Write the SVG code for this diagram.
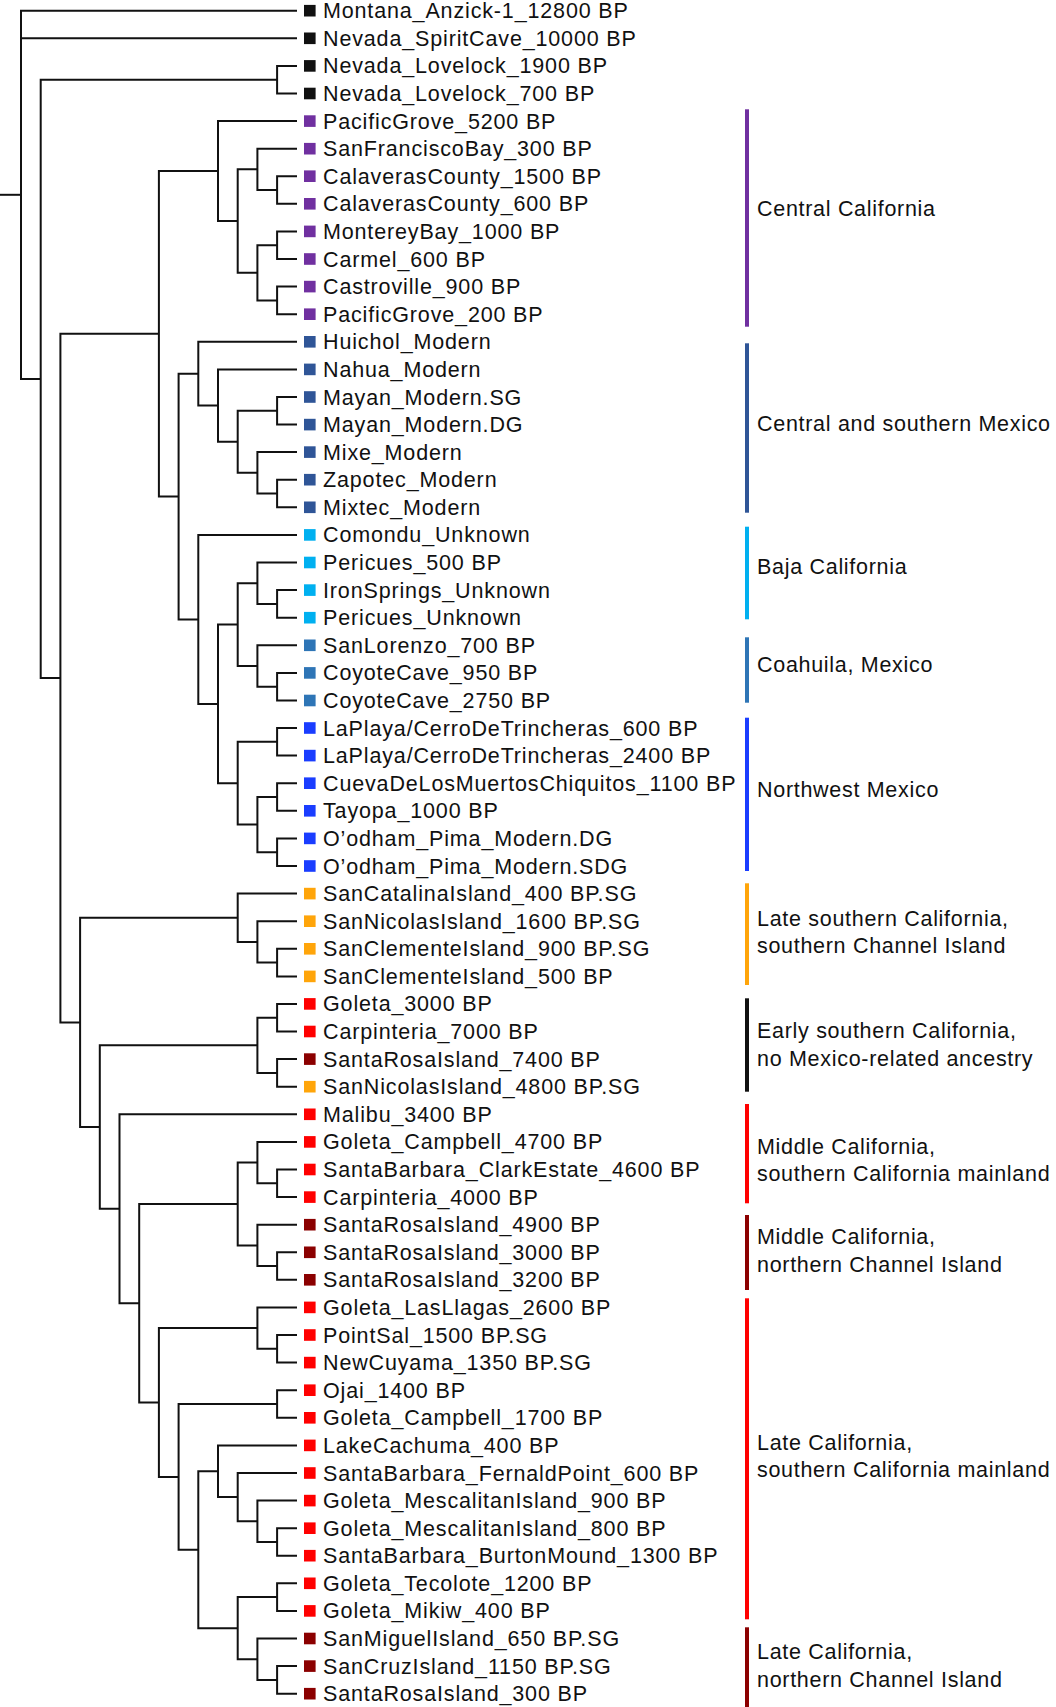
<svg xmlns="http://www.w3.org/2000/svg" width="1056" height="1707" viewBox="0 0 1056 1707">
<style>
.e{fill:none;stroke:#111;stroke-width:2;stroke-linejoin:miter}
text{font-family:"Liberation Sans",Arial,sans-serif;font-size:21.5px;letter-spacing:0.85px;fill:#111}
#regions text{letter-spacing:0.7px}
.k{fill:#111}.p{fill:#7030a0}.mx{fill:#2f5597}.bj{fill:#00b0f0}.co{fill:#2e75b6}.nw{fill:#1a3dff}.o{fill:#ffa50a}.r{fill:#ff0000}.dr{fill:#8b0000}
</style>
<rect width="1056" height="1707" fill="#fff"/>
<g id="connectors" class="e">
<path d="M0 194.8H21"/>
<path d="M297 10.7H21V378.9H40.7"/>
<path d="M21 38.3H297"/>
<path d="M297 65.9H277.1V93.5H297"/>
<path d="M277.1 79.7H40.7V678.1H60.4"/>
<path d="M158.9 333.8H60.4V1022.4H80.1"/>
<path d="M218 171.1H158.9V496.5H178.6"/>
<path d="M297 121.1H218V221.1H237.7"/>
<path d="M257.4 169.3H237.7V272.8H257.4"/>
<path d="M297 148.7H257.4V190H277.1"/>
<path d="M297 176.2H277.1V203.8H297"/>
<path d="M277.1 245.2H257.4V300.4H277.1"/>
<path d="M297 231.4H277.1V259H297"/>
<path d="M297 286.6H277.1V314.2H297"/>
<path d="M198.3 373.7H178.6V619.4H198.3"/>
<path d="M297 341.8H198.3V405.6H218"/>
<path d="M297 369.4H218V441.8H237.7"/>
<path d="M277.1 410.8H237.7V472.8H257.4"/>
<path d="M297 397H277.1V424.6H297"/>
<path d="M297 452.1H257.4V493.5H277.1"/>
<path d="M297 479.7H277.1V507.3H297"/>
<path d="M297 534.9H198.3V703.9H218"/>
<path d="M237.7 624.6H218V783.2H237.7"/>
<path d="M257.4 583.2H237.7V666H257.4"/>
<path d="M297 562.5H257.4V603.9H277.1"/>
<path d="M297 590.1H277.1V617.7H297"/>
<path d="M297 645.3H257.4V686.7H277.1"/>
<path d="M297 672.9H277.1V700.5H297"/>
<path d="M277.1 741.8H237.7V824.6H257.4"/>
<path d="M297 728H277.1V755.6H297"/>
<path d="M277.1 797H257.4V852.2H277.1"/>
<path d="M297 783.2H277.1V810.8H297"/>
<path d="M297 838.4H277.1V866H297"/>
<path d="M237.7 917.7H80.1V1127H99.8"/>
<path d="M297 893.6H237.7V941.9H257.4"/>
<path d="M297 921.2H257.4V962.6H277.1"/>
<path d="M297 948.8H277.1V976.4H297"/>
<path d="M257.4 1045.3H99.8V1208.8H119.5"/>
<path d="M277.1 1017.7H257.4V1072.9H277.1"/>
<path d="M297 1003.9H277.1V1031.5H297"/>
<path d="M297 1059.1H277.1V1086.7H297"/>
<path d="M297 1114.3H119.5V1303.2H139.2"/>
<path d="M237.7 1204H139.2V1402.5H158.9"/>
<path d="M257.4 1162.6H237.7V1245.4H257.4"/>
<path d="M297 1141.9H257.4V1183.3H277.1"/>
<path d="M297 1169.5H277.1V1197.1H297"/>
<path d="M297 1224.7H257.4V1266.1H277.1"/>
<path d="M297 1252.3H277.1V1279.8H297"/>
<path d="M257.4 1328.1H158.9V1476.9H178.6"/>
<path d="M297 1307.4H257.4V1348.8H277.1"/>
<path d="M297 1335H277.1V1362.6H297"/>
<path d="M277.1 1404H178.6V1549.7H198.3"/>
<path d="M297 1390.2H277.1V1417.8H297"/>
<path d="M218 1471.2H198.3V1628.2H237.7"/>
<path d="M297 1445.4H218V1497.1H237.7"/>
<path d="M297 1473H237.7V1521.3H257.4"/>
<path d="M297 1500.6H257.4V1542H277.1"/>
<path d="M297 1528.2H277.1V1555.7H297"/>
<path d="M277.1 1597.1H237.7V1659.2H257.4"/>
<path d="M297 1583.3H277.1V1610.9H297"/>
<path d="M297 1638.5H257.4V1679.9H277.1"/>
<path d="M297 1666.1H277.1V1693.7H297"/>
</g>
<g id="leaves">
<g id="leaf-0" transform="translate(0,10.7)"><rect class="k" x="304" y="-5.8" width="11.6" height="11.6"/><text x="323" y="7.5">Montana_Anzick-1_12800 BP</text></g>
<g id="leaf-1" transform="translate(0,38.3)"><rect class="k" x="304" y="-5.8" width="11.6" height="11.6"/><text x="323" y="7.5">Nevada_SpiritCave_10000 BP</text></g>
<g id="leaf-2" transform="translate(0,65.9)"><rect class="k" x="304" y="-5.8" width="11.6" height="11.6"/><text x="323" y="7.5">Nevada_Lovelock_1900 BP</text></g>
<g id="leaf-3" transform="translate(0,93.5)"><rect class="k" x="304" y="-5.8" width="11.6" height="11.6"/><text x="323" y="7.5">Nevada_Lovelock_700 BP</text></g>
<g id="leaf-4" transform="translate(0,121.1)"><rect class="p" x="304" y="-5.8" width="11.6" height="11.6"/><text x="323" y="7.5">PacificGrove_5200 BP</text></g>
<g id="leaf-5" transform="translate(0,148.7)"><rect class="p" x="304" y="-5.8" width="11.6" height="11.6"/><text x="323" y="7.5">SanFranciscoBay_300 BP</text></g>
<g id="leaf-6" transform="translate(0,176.2)"><rect class="p" x="304" y="-5.8" width="11.6" height="11.6"/><text x="323" y="7.5">CalaverasCounty_1500 BP</text></g>
<g id="leaf-7" transform="translate(0,203.8)"><rect class="p" x="304" y="-5.8" width="11.6" height="11.6"/><text x="323" y="7.5">CalaverasCounty_600 BP</text></g>
<g id="leaf-8" transform="translate(0,231.4)"><rect class="p" x="304" y="-5.8" width="11.6" height="11.6"/><text x="323" y="7.5">MontereyBay_1000 BP</text></g>
<g id="leaf-9" transform="translate(0,259)"><rect class="p" x="304" y="-5.8" width="11.6" height="11.6"/><text x="323" y="7.5">Carmel_600 BP</text></g>
<g id="leaf-10" transform="translate(0,286.6)"><rect class="p" x="304" y="-5.8" width="11.6" height="11.6"/><text x="323" y="7.5">Castroville_900 BP</text></g>
<g id="leaf-11" transform="translate(0,314.2)"><rect class="p" x="304" y="-5.8" width="11.6" height="11.6"/><text x="323" y="7.5">PacificGrove_200 BP</text></g>
<g id="leaf-12" transform="translate(0,341.8)"><rect class="mx" x="304" y="-5.8" width="11.6" height="11.6"/><text x="323" y="7.5">Huichol_Modern</text></g>
<g id="leaf-13" transform="translate(0,369.4)"><rect class="mx" x="304" y="-5.8" width="11.6" height="11.6"/><text x="323" y="7.5">Nahua_Modern</text></g>
<g id="leaf-14" transform="translate(0,397)"><rect class="mx" x="304" y="-5.8" width="11.6" height="11.6"/><text x="323" y="7.5">Mayan_Modern.SG</text></g>
<g id="leaf-15" transform="translate(0,424.6)"><rect class="mx" x="304" y="-5.8" width="11.6" height="11.6"/><text x="323" y="7.5">Mayan_Modern.DG</text></g>
<g id="leaf-16" transform="translate(0,452.1)"><rect class="mx" x="304" y="-5.8" width="11.6" height="11.6"/><text x="323" y="7.5">Mixe_Modern</text></g>
<g id="leaf-17" transform="translate(0,479.7)"><rect class="mx" x="304" y="-5.8" width="11.6" height="11.6"/><text x="323" y="7.5">Zapotec_Modern</text></g>
<g id="leaf-18" transform="translate(0,507.3)"><rect class="mx" x="304" y="-5.8" width="11.6" height="11.6"/><text x="323" y="7.5">Mixtec_Modern</text></g>
<g id="leaf-19" transform="translate(0,534.9)"><rect class="bj" x="304" y="-5.8" width="11.6" height="11.6"/><text x="323" y="7.5">Comondu_Unknown</text></g>
<g id="leaf-20" transform="translate(0,562.5)"><rect class="bj" x="304" y="-5.8" width="11.6" height="11.6"/><text x="323" y="7.5">Pericues_500 BP</text></g>
<g id="leaf-21" transform="translate(0,590.1)"><rect class="bj" x="304" y="-5.8" width="11.6" height="11.6"/><text x="323" y="7.5">IronSprings_Unknown</text></g>
<g id="leaf-22" transform="translate(0,617.7)"><rect class="bj" x="304" y="-5.8" width="11.6" height="11.6"/><text x="323" y="7.5">Pericues_Unknown</text></g>
<g id="leaf-23" transform="translate(0,645.3)"><rect class="co" x="304" y="-5.8" width="11.6" height="11.6"/><text x="323" y="7.5">SanLorenzo_700 BP</text></g>
<g id="leaf-24" transform="translate(0,672.9)"><rect class="co" x="304" y="-5.8" width="11.6" height="11.6"/><text x="323" y="7.5">CoyoteCave_950 BP</text></g>
<g id="leaf-25" transform="translate(0,700.5)"><rect class="co" x="304" y="-5.8" width="11.6" height="11.6"/><text x="323" y="7.5">CoyoteCave_2750 BP</text></g>
<g id="leaf-26" transform="translate(0,728)"><rect class="nw" x="304" y="-5.8" width="11.6" height="11.6"/><text x="323" y="7.5">LaPlaya/CerroDeTrincheras_600 BP</text></g>
<g id="leaf-27" transform="translate(0,755.6)"><rect class="nw" x="304" y="-5.8" width="11.6" height="11.6"/><text x="323" y="7.5">LaPlaya/CerroDeTrincheras_2400 BP</text></g>
<g id="leaf-28" transform="translate(0,783.2)"><rect class="nw" x="304" y="-5.8" width="11.6" height="11.6"/><text x="323" y="7.5">CuevaDeLosMuertosChiquitos_1100 BP</text></g>
<g id="leaf-29" transform="translate(0,810.8)"><rect class="nw" x="304" y="-5.8" width="11.6" height="11.6"/><text x="323" y="7.5">Tayopa_1000 BP</text></g>
<g id="leaf-30" transform="translate(0,838.4)"><rect class="nw" x="304" y="-5.8" width="11.6" height="11.6"/><text x="323" y="7.5">O’odham_Pima_Modern.DG</text></g>
<g id="leaf-31" transform="translate(0,866)"><rect class="nw" x="304" y="-5.8" width="11.6" height="11.6"/><text x="323" y="7.5">O’odham_Pima_Modern.SDG</text></g>
<g id="leaf-32" transform="translate(0,893.6)"><rect class="o" x="304" y="-5.8" width="11.6" height="11.6"/><text x="323" y="7.5">SanCatalinaIsland_400 BP.SG</text></g>
<g id="leaf-33" transform="translate(0,921.2)"><rect class="o" x="304" y="-5.8" width="11.6" height="11.6"/><text x="323" y="7.5">SanNicolasIsland_1600 BP.SG</text></g>
<g id="leaf-34" transform="translate(0,948.8)"><rect class="o" x="304" y="-5.8" width="11.6" height="11.6"/><text x="323" y="7.5">SanClementeIsland_900 BP.SG</text></g>
<g id="leaf-35" transform="translate(0,976.4)"><rect class="o" x="304" y="-5.8" width="11.6" height="11.6"/><text x="323" y="7.5">SanClementeIsland_500 BP</text></g>
<g id="leaf-36" transform="translate(0,1003.9)"><rect class="r" x="304" y="-5.8" width="11.6" height="11.6"/><text x="323" y="7.5">Goleta_3000 BP</text></g>
<g id="leaf-37" transform="translate(0,1031.5)"><rect class="r" x="304" y="-5.8" width="11.6" height="11.6"/><text x="323" y="7.5">Carpinteria_7000 BP</text></g>
<g id="leaf-38" transform="translate(0,1059.1)"><rect class="dr" x="304" y="-5.8" width="11.6" height="11.6"/><text x="323" y="7.5">SantaRosaIsland_7400 BP</text></g>
<g id="leaf-39" transform="translate(0,1086.7)"><rect class="o" x="304" y="-5.8" width="11.6" height="11.6"/><text x="323" y="7.5">SanNicolasIsland_4800 BP.SG</text></g>
<g id="leaf-40" transform="translate(0,1114.3)"><rect class="r" x="304" y="-5.8" width="11.6" height="11.6"/><text x="323" y="7.5">Malibu_3400 BP</text></g>
<g id="leaf-41" transform="translate(0,1141.9)"><rect class="r" x="304" y="-5.8" width="11.6" height="11.6"/><text x="323" y="7.5">Goleta_Campbell_4700 BP</text></g>
<g id="leaf-42" transform="translate(0,1169.5)"><rect class="r" x="304" y="-5.8" width="11.6" height="11.6"/><text x="323" y="7.5">SantaBarbara_ClarkEstate_4600 BP</text></g>
<g id="leaf-43" transform="translate(0,1197.1)"><rect class="r" x="304" y="-5.8" width="11.6" height="11.6"/><text x="323" y="7.5">Carpinteria_4000 BP</text></g>
<g id="leaf-44" transform="translate(0,1224.7)"><rect class="dr" x="304" y="-5.8" width="11.6" height="11.6"/><text x="323" y="7.5">SantaRosaIsland_4900 BP</text></g>
<g id="leaf-45" transform="translate(0,1252.3)"><rect class="dr" x="304" y="-5.8" width="11.6" height="11.6"/><text x="323" y="7.5">SantaRosaIsland_3000 BP</text></g>
<g id="leaf-46" transform="translate(0,1279.8)"><rect class="dr" x="304" y="-5.8" width="11.6" height="11.6"/><text x="323" y="7.5">SantaRosaIsland_3200 BP</text></g>
<g id="leaf-47" transform="translate(0,1307.4)"><rect class="r" x="304" y="-5.8" width="11.6" height="11.6"/><text x="323" y="7.5">Goleta_LasLlagas_2600 BP</text></g>
<g id="leaf-48" transform="translate(0,1335)"><rect class="r" x="304" y="-5.8" width="11.6" height="11.6"/><text x="323" y="7.5">PointSal_1500 BP.SG</text></g>
<g id="leaf-49" transform="translate(0,1362.6)"><rect class="r" x="304" y="-5.8" width="11.6" height="11.6"/><text x="323" y="7.5">NewCuyama_1350 BP.SG</text></g>
<g id="leaf-50" transform="translate(0,1390.2)"><rect class="r" x="304" y="-5.8" width="11.6" height="11.6"/><text x="323" y="7.5">Ojai_1400 BP</text></g>
<g id="leaf-51" transform="translate(0,1417.8)"><rect class="r" x="304" y="-5.8" width="11.6" height="11.6"/><text x="323" y="7.5">Goleta_Campbell_1700 BP</text></g>
<g id="leaf-52" transform="translate(0,1445.4)"><rect class="r" x="304" y="-5.8" width="11.6" height="11.6"/><text x="323" y="7.5">LakeCachuma_400 BP</text></g>
<g id="leaf-53" transform="translate(0,1473)"><rect class="r" x="304" y="-5.8" width="11.6" height="11.6"/><text x="323" y="7.5">SantaBarbara_FernaldPoint_600 BP</text></g>
<g id="leaf-54" transform="translate(0,1500.6)"><rect class="r" x="304" y="-5.8" width="11.6" height="11.6"/><text x="323" y="7.5">Goleta_MescalitanIsland_900 BP</text></g>
<g id="leaf-55" transform="translate(0,1528.2)"><rect class="r" x="304" y="-5.8" width="11.6" height="11.6"/><text x="323" y="7.5">Goleta_MescalitanIsland_800 BP</text></g>
<g id="leaf-56" transform="translate(0,1555.7)"><rect class="r" x="304" y="-5.8" width="11.6" height="11.6"/><text x="323" y="7.5">SantaBarbara_BurtonMound_1300 BP</text></g>
<g id="leaf-57" transform="translate(0,1583.3)"><rect class="r" x="304" y="-5.8" width="11.6" height="11.6"/><text x="323" y="7.5">Goleta_Tecolote_1200 BP</text></g>
<g id="leaf-58" transform="translate(0,1610.9)"><rect class="r" x="304" y="-5.8" width="11.6" height="11.6"/><text x="323" y="7.5">Goleta_Mikiw_400 BP</text></g>
<g id="leaf-59" transform="translate(0,1638.5)"><rect class="dr" x="304" y="-5.8" width="11.6" height="11.6"/><text x="323" y="7.5">SanMiguelIsland_650 BP.SG</text></g>
<g id="leaf-60" transform="translate(0,1666.1)"><rect class="dr" x="304" y="-5.8" width="11.6" height="11.6"/><text x="323" y="7.5">SanCruzIsland_1150 BP.SG</text></g>
<g id="leaf-61" transform="translate(0,1693.7)"><rect class="dr" x="304" y="-5.8" width="11.6" height="11.6"/><text x="323" y="7.5">SantaRosaIsland_300 BP</text></g>
</g>
<g id="regions">
<g id="region-central-california"><rect class="p" x="745" y="109.3" width="4" height="217.4"/><text x="757" y="215.5">Central California</text></g>
<g id="region-central-southern-mexico"><rect class="mx" x="745" y="343.3" width="4" height="169.4"/><text x="757" y="430.5">Central and southern Mexico</text></g>
<g id="region-baja"><rect class="bj" x="745" y="526.7" width="4" height="92.6"/><text x="757" y="573.7">Baja California</text></g>
<g id="region-coahuila"><rect class="co" x="745" y="637.3" width="4" height="65.4"/><text x="757" y="672">Coahuila, Mexico</text></g>
<g id="region-northwest-mexico"><rect class="nw" x="745" y="717.7" width="4" height="153.3"/><text x="757" y="797.2">Northwest Mexico</text></g>
<g id="region-late-south-channel"><rect class="o" x="745" y="883.3" width="4" height="101.7"/><text x="757" y="926">Late southern California,</text><text x="757" y="953">southern Channel Island</text></g>
<g id="region-early-south"><rect class="k" x="745" y="998.3" width="4" height="93.4"/><text x="757" y="1038.3">Early southern California,</text><text x="757" y="1065.8">no Mexico-related ancestry</text></g>
<g id="region-middle-mainland"><rect class="r" x="745" y="1104" width="4" height="99.3"/><text x="757" y="1154">Middle California,</text><text x="757" y="1181">southern California mainland</text></g>
<g id="region-middle-channel"><rect class="dr" x="745" y="1215" width="4" height="75"/><text x="757" y="1244.2">Middle California,</text><text x="757" y="1271.5">northern Channel Island</text></g>
<g id="region-late-mainland"><rect class="r" x="745" y="1298.3" width="4" height="321"/><text x="757" y="1450">Late California,</text><text x="757" y="1477.2">southern California mainland</text></g>
<g id="region-late-channel"><rect class="dr" x="745" y="1627.3" width="4" height="79.7"/><text x="757" y="1659.3">Late California,</text><text x="757" y="1686.7">northern Channel Island</text></g>
</g>
</svg>
